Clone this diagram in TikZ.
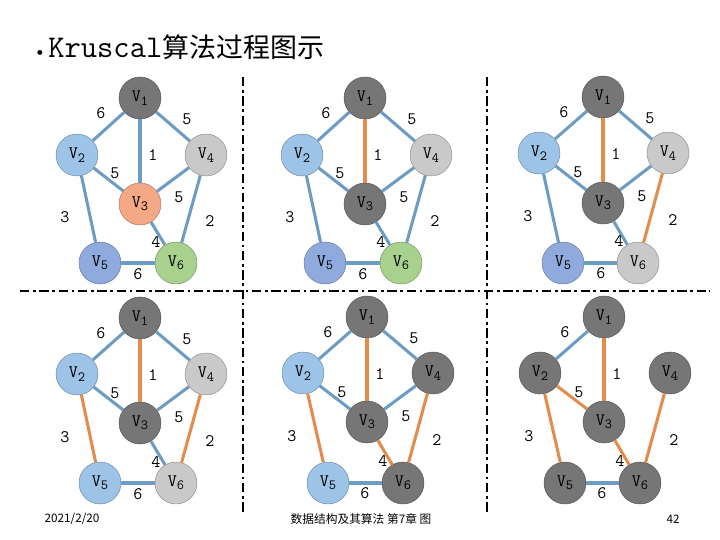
\documentclass[tikz,border=0pt]{standalone}
\usepackage{fontspec}
\newfontfamily\cjkfont{Noto Sans CJK SC}
\usetikzlibrary{positioning}

\definecolor{vdark}{HTML}{767676}
\definecolor{vblue}{HTML}{9DC3E6}
\definecolor{vsalmon}{HTML}{F4A886}
\definecolor{vlight}{HTML}{C9C9C9}
\definecolor{vperi}{HTML}{8FAADC}
\definecolor{vgreen}{HTML}{A9D18E}
\definecolor{eblue}{HTML}{6C9CC4}
\definecolor{eorange}{HTML}{E38C4C}

\newcommand{\nodefont}{\ttfamily\fontsize{15}{17}\selectfont}
\newcommand{\vname}[1]{V\raisebox{-0.45ex}{\fontsize{12}{12}\selectfont #1}}
% edge weights, relative to V1 of each panel
\def\allwts{-39/15/6, 47/21/5, 13/57/1, -25/75/5, 39/99/5, -75/119/3, 70/123/2, 16/144/4, -2/176/6}
\def\lastwts{-39/15/6, 13/57/1, -25/75/5, -75/119/3, 70/123/2, 16/144/4, -2/176/6}

\tikzset{
  vtx/.style={circle, draw=#1!70!black, fill=#1, minimum size=1.26cm, inner sep=0pt, font=\nodefont},
  link/.style={line width=2.6pt, draw=#1},
  wt/.style={font=\nodefont},
  sep/.style={line width=2.2pt, dash pattern=on 8pt off 3pt on 2.5pt off 3pt}
}

\begin{document}
\begin{tikzpicture}[x=0.03cm, y=-0.03cm]
    \useasboundingbox (0,0) rectangle (720,540);

    \node[anchor=west, font=\ttfamily\fontsize{27}{30}\selectfont] (title) at (31,47) {{\fontsize{16}{16}\selectfont\textbullet}\hspace{3pt}Kruscal{\cjkfont\fontsize{23}{28}\selectfont 算法过程图示}};

    % separators
    \draw[sep] (243,77) -- (243,512);
    \draw[sep] (487,77) -- (487,512);
    \draw[sep] (20,291) -- (710,291);

    % panel 1
    \begin{scope}[shift={(140,98)}]
    \node[vtx=vdark] (a1) at (0,0) {\vname{1}};
    \node[vtx=vblue] (a2) at (-63,57) {\vname{2}};
    \node[vtx=vsalmon] (a3) at (0,106) {\vname{3}};
    \node[vtx=vlight] (a4) at (66,57) {\vname{4}};
    \node[vtx=vperi] (a5) at (-40,165) {\vname{5}};
    \node[vtx=vgreen] (a6) at (36,165) {\vname{6}};
    \foreach \u/\v/\c in {1/2/eblue, 1/3/eblue, 1/4/eblue, 2/3/eblue, 3/4/eblue, 2/5/eblue, 4/6/eblue, 3/6/eblue, 5/6/eblue}
        \draw[link=\c] (a\u) -- (a\v);
    \foreach \x/\y/\w [count=\i] in \allwts
        \node[wt] (aw\i) at (\x,\y) {\w};
    \end{scope}

    % panel 2
    \begin{scope}[shift={(365,98)}]
    \node[vtx=vdark] (b1) at (0,0) {\vname{1}};
    \node[vtx=vblue] (b2) at (-63,57) {\vname{2}};
    \node[vtx=vdark] (b3) at (0,106) {\vname{3}};
    \node[vtx=vlight] (b4) at (66,57) {\vname{4}};
    \node[vtx=vperi] (b5) at (-40,165) {\vname{5}};
    \node[vtx=vgreen] (b6) at (36,165) {\vname{6}};
    \foreach \u/\v/\c in {1/2/eblue, 1/3/eorange, 1/4/eblue, 2/3/eblue, 3/4/eblue, 2/5/eblue, 4/6/eblue, 3/6/eblue, 5/6/eblue}
        \draw[link=\c] (b\u) -- (b\v);
    \foreach \x/\y/\w [count=\i] in \allwts
        \node[wt] (bw\i) at (\x,\y) {\w};
    \end{scope}

    % panel 3
    \begin{scope}[shift={(603,97)}]
    \node[vtx=vdark] (c1) at (0,0) {\vname{1}};
    \node[vtx=vblue] (c2) at (-64,56) {\vname{2}};
    \node[vtx=vdark] (c3) at (0,106) {\vname{3}};
    \node[vtx=vlight] (c4) at (65,56) {\vname{4}};
    \node[vtx=vperi] (c5) at (-40,166) {\vname{5}};
    \node[vtx=vlight] (c6) at (35,166) {\vname{6}};
    \foreach \u/\v/\c in {1/2/eblue, 1/3/eorange, 1/4/eblue, 2/3/eblue, 3/4/eblue, 2/5/eblue, 4/6/eorange, 3/6/eblue, 5/6/eblue}
        \draw[link=\c] (c\u) -- (c\v);
    \foreach \x/\y/\w [count=\i] in \allwts
        \node[wt] (cw\i) at (\x,\y) {\w};
    \end{scope}

    % panel 4
    \begin{scope}[shift={(140,318)}]
    \node[vtx=vdark] (d1) at (0,0) {\vname{1}};
    \node[vtx=vblue] (d2) at (-63,56) {\vname{2}};
    \node[vtx=vdark] (d3) at (0,105) {\vname{3}};
    \node[vtx=vlight] (d4) at (66,56) {\vname{4}};
    \node[vtx=vblue] (d5) at (-40,165) {\vname{5}};
    \node[vtx=vlight] (d6) at (36,165) {\vname{6}};
    \foreach \u/\v/\c in {1/2/eblue, 1/3/eorange, 1/4/eblue, 2/3/eblue, 3/4/eblue, 2/5/eorange, 4/6/eorange, 3/6/eblue, 5/6/eblue}
        \draw[link=\c] (d\u) -- (d\v);
    \foreach \x/\y/\w [count=\i] in \allwts
        \node[wt] (dw\i) at (\x,\y) {\w};
    \end{scope}

    % panel 5
    \begin{scope}[shift={(367,317)}]
    \node[vtx=vdark] (e1) at (0,0) {\vname{1}};
    \node[vtx=vblue] (e2) at (-64,56) {\vname{2}};
    \node[vtx=vdark] (e3) at (0,105) {\vname{3}};
    \node[vtx=vdark] (e4) at (66,56) {\vname{4}};
    \node[vtx=vblue] (e5) at (-39,166) {\vname{5}};
    \node[vtx=vdark] (e6) at (36,166) {\vname{6}};
    \foreach \u/\v/\c in {1/2/eblue, 1/3/eorange, 1/4/eblue, 2/3/eblue, 3/4/eblue, 2/5/eorange, 4/6/eorange, 3/6/eorange, 5/6/eblue}
        \draw[link=\c] (e\u) -- (e\v);
    \foreach \x/\y/\w [count=\i] in \allwts
        \node[wt] (ew\i) at (\x,\y) {\w};
    \end{scope}

    % panel 6
    \begin{scope}[shift={(604,317)}]
    \node[vtx=vdark] (f1) at (0,0) {\vname{1}};
    \node[vtx=vdark] (f2) at (-64,56) {\vname{2}};
    \node[vtx=vdark] (f3) at (0,105) {\vname{3}};
    \node[vtx=vdark] (f4) at (66,56) {\vname{4}};
    \node[vtx=vdark] (f5) at (-39,166) {\vname{5}};
    \node[vtx=vdark] (f6) at (36,166) {\vname{6}};
    \foreach \u/\v/\c in {1/2/eblue, 1/3/eorange, 2/3/eorange, 2/5/eorange, 4/6/eorange, 3/6/eorange, 5/6/eblue}
        \draw[link=\c] (f\u) -- (f\v);
    \foreach \x/\y/\w [count=\i] in \lastwts
        \node[wt] (fw\i) at (\x,\y) {\w};
    \end{scope}

    % footer
    \node[font=\cjkfont\fontsize{10}{12}\selectfont] (date) at (72,519) {2021/2/20};
    \node[font=\cjkfont\fontsize{10}{12}\selectfont] (chap) at (361,519) {数据结构及其算法\ 第7章\ 图};
    \node[font=\cjkfont\fontsize{10}{12}\selectfont] (pgno) at (673,519) {42};
\end{tikzpicture}
\end{document}
